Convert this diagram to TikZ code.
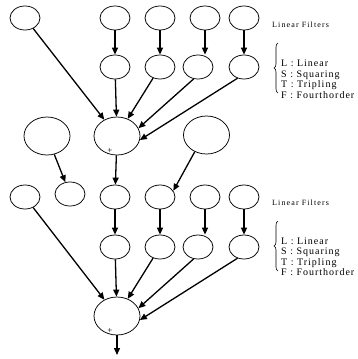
\documentclass[tikz,border=0pt]{standalone}
\usepackage{fontspec}
\setmainfont{Liberation Serif}
\usetikzlibrary{shapes.geometric,arrows.meta,decorations.pathreplacing}
\begin{document}
\begin{tikzpicture}[x=1pt,y=-1pt,
 sm/.style={ellipse,draw,line width=0.75pt,minimum width=30pt,minimum height=24pt,inner sep=0pt},
 bg/.style={ellipse,draw,line width=0.75pt,minimum width=46pt,minimum height=38pt,inner sep=0pt},
 arr/.style={-{Triangle[length=7pt,width=6pt]},line width=1.3pt},
 lbl/.style={font=\fontsize{8}{9}\selectfont\addfontfeature{LetterSpace=14},anchor=west,inner sep=0pt},
 leg/.style={font=\fontsize{10}{10.5}\selectfont\addfontfeature{LetterSpace=10},anchor=base west,inner sep=0pt},
 plus/.style={font=\fontsize{9}{9}\selectfont,inner sep=0pt},
 brc/.style={decorate,decoration={brace,amplitude=4pt},line width=0.6pt}]
\useasboundingbox (0,0) rectangle (358,359);
% ---------- upper stage ----------
\node[sm] (A1) at (25,18) {};
\node[sm] (A2) at (115,18) {};
\node[sm] (A3) at (160,18) {};
\node[sm] (A4) at (205,18) {};
\node[sm] (A5) at (244,18) {};
\node[sm] (B2) at (115,67) {};
\node[sm] (B3) at (160,67) {};
\node[sm] (B4) at (198,67) {};
\node[sm] (B5) at (244,67) {};
\node[bg] (S1) at (117,136) {};
\node[bg] (L1) at (47,136) {};
\node[bg] (R1) at (206.5,135) {};
\node[plus] (p1) at (110,151) {+};
\draw[arr] (A2) -- (B2);
\draw[arr] (A3) -- (B3);
\draw[arr] (A4.south) -- (A4.south |- B4.north);
\draw[arr] (A5) -- (B5);
\draw[arr] (A1) -- (S1);
\draw[arr] (B2) -- (S1);
\draw[arr] (B3) -- (S1);
\draw[arr] (B4.250) -- (S1.20);
\draw[arr] (B5.240) -- (S1.-10);
\node[lbl] (t1) at (272,25) {Linear Filters};
\node[leg] (l1) at (281,66.5) {L : Linear};
\node[leg] (l2) at (281,77) {S : Squaring};
\node[leg] (l3) at (281,87.5) {T : Tripling};
\node[leg] (l4) at (281,98) {F : Fourthorder};
\coordinate (b1a) at (278,93);
\coordinate (b1b) at (278,43);
\draw[brc] (b1a) -- (b1b);
% ---------- lower stage ----------
\node[sm] (C1) at (25,197) {};
\node[sm] (C2) at (70,194) {};
\node[sm] (C3) at (115,197) {};
\node[sm] (C4) at (160,197) {};
\node[sm] (C5) at (205,197) {};
\node[sm] (C6) at (244,197) {};
\node[sm] (D3) at (115,247) {};
\node[sm] (D4) at (160,247) {};
\node[sm] (D5) at (198,247) {};
\node[sm] (D6) at (244,247) {};
\node[bg] (S2) at (117,316) {};
\node[plus] (p2) at (110,331) {+};
\coordinate (out) at (117,355);
\draw[arr] (S1) -- (C3);
\draw[arr] (L1) -- (C2);
\draw[arr] (R1.235) -- (C4.25);
\draw[arr] (C3) -- (D3);
\draw[arr] (C4) -- (D4);
\draw[arr] (C5.south) -- (C5.south |- D5.north);
\draw[arr] (C6) -- (D6);
\draw[arr] (C1) -- (S2);
\draw[arr] (D3) -- (S2);
\draw[arr] (D4) -- (S2);
\draw[arr] (D5.250) -- (S2.20);
\draw[arr] (D6.240) -- (S2.-10);
\draw[arr] (S2) -- (out);
\node[lbl] (t2) at (272,203) {Linear Filters};
\node[leg] (m1) at (281,244) {L : Linear};
\node[leg] (m2) at (281,254.5) {S : Squaring};
\node[leg] (m3) at (281,265) {T : Tripling};
\node[leg] (m4) at (281,275.5) {F : Fourthorder};
\coordinate (b2a) at (278,271);
\coordinate (b2b) at (278,221);
\draw[brc] (b2a) -- (b2b);
\end{tikzpicture}
\end{document}
